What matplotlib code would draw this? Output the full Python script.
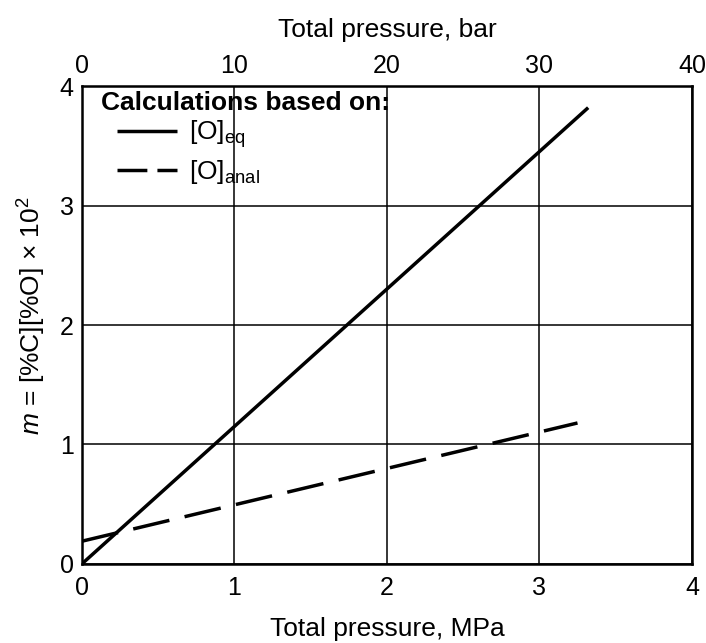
import matplotlib
matplotlib.use('Agg')
import matplotlib.pyplot as plt

plt.rcParams['font.family'] = ['Liberation Sans', 'DejaVu Sans']
plt.rcParams['mathtext.fontset'] = 'custom'
plt.rcParams['mathtext.rm'] = 'Liberation Sans'
plt.rcParams['mathtext.it'] = 'Liberation Sans:italic'

# 数据: 总压力 (MPa) 与 m 值
p_eq = [0.0, 3.32]
m_eq = [0.0, 3.82]
p_anal = [0.0, 3.25]
m_anal = [0.19, 1.18]
x_ticks = [0, 1, 2, 3, 4]
y_ticks = [0, 1, 2, 3, 4]
bar_ticks = [0, 10, 20, 30, 40]

fig = plt.figure(figsize=(7.06, 6.43), dpi=100)
ax = fig.add_axes([0.116, 0.123, 0.864, 0.743])

ax.plot(p_eq, m_eq, color='black', lw=2.5, solid_capstyle='butt',
        label=r'$[\mathrm{O}]_{\mathrm{eq}}$')
ax.plot(p_anal, m_anal, color='black', lw=2.5, dashes=(10.7, 4.5),
        label=r'$[\mathrm{O}]_{\mathrm{anal}}$')

ax.set_xlim(0, 4)
ax.set_ylim(0, 4)
ax.set_xticks(x_ticks)
ax.set_yticks(y_ticks)
ax.grid(True, color='black', lw=1.1)
ax.tick_params(length=0, labelsize=18)
ax.tick_params(axis='x', pad=9)
ax.tick_params(axis='y', pad=6)
for s in ax.spines.values():
    s.set_linewidth(1.8)

ax.set_xlabel('Total pressure, MPa', fontsize=19, labelpad=12)
ax.set_ylabel(r'$m$ = [%C][%O] × 10$^2$', fontsize=19, labelpad=8)
ax.yaxis.label.set_y(0.52)

# 上方的 bar 坐标轴
top = ax.secondary_xaxis('top', functions=(lambda x: x * 10, lambda x: x / 10))
top.set_xticks(bar_ticks)
top.tick_params(length=0, labelsize=18, pad=6)
top.set_xlabel('Total pressure, bar', fontsize=19, labelpad=12)

# 图例
ax.text(0.031, 0.964, 'Calculations based on:', transform=ax.transAxes,
        fontsize=19, fontweight='bold', ha='left', va='center')
leg = ax.legend(loc='upper left', frameon=False, fontsize=19,
                handlelength=2.3, borderpad=0, borderaxespad=0,
                labelspacing=0.3, handletextpad=0.45,
                bbox_to_anchor=(0.057, 0.932))
leg.get_lines()[1].set_dashes((8.6, 2.9))

fig.savefig('out.png', dpi=100)
